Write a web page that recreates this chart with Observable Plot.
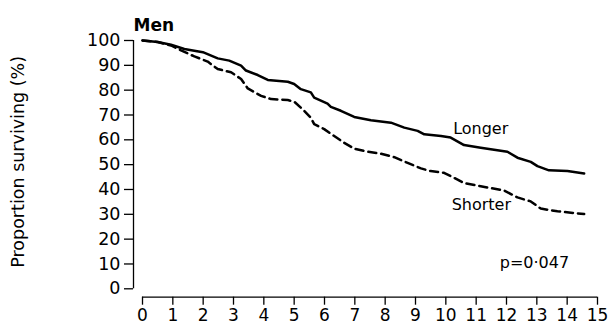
<!DOCTYPE html>
<html><head><meta charset="utf-8">
<script src="https://cdn.jsdelivr.net/npm/d3@7"></script>
<script src="https://cdn.jsdelivr.net/npm/@observablehq/plot@0.6"></script>
<style>body{margin:0;background:#fff}</style>
</head><body><div id="chart"></div>
<script>
const longerYears = [0,0.5,0.94,1.38,1.99,2.48,2.86,3.25,3.41,3.8,4.13,4.79,5.0,5.22,5.55,5.66,6.1,6.21,6.54,6.98,7.53,8.19,8.63,9.07,9.29,9.84,10.16,10.6,11.15,12.03,12.36,12.8,13.02,13.4,14.01,14.56];
const longerPct   = [100,99.4,98.3,96.6,95.3,92.8,91.9,89.9,87.9,86.1,84.1,83.4,82.5,80.4,79.1,77.0,74.6,73.3,71.7,69.2,67.9,66.9,64.9,63.6,62.2,61.5,60.9,57.9,56.8,55.2,52.8,51.1,49.4,47.7,47.4,46.4];
const shorterYears = [0,0.5,0.94,1.27,1.71,2.15,2.48,2.92,3.25,3.47,3.91,4.24,4.79,5.0,5.33,5.55,5.66,5.99,6.32,6.65,6.98,7.42,7.86,8.3,8.74,9.18,9.5,9.94,10.27,10.6,11.15,11.92,12.36,12.8,13.13,13.68,14.56];
const shorterPct   = [100,99.4,98,96,93.6,91.5,88.5,87.2,84.5,80.7,77.7,76.4,76,75.4,71.7,68.9,66.3,64.3,61.5,58.8,56.4,55.2,54.4,53,50.7,48.5,47.4,46.7,44.7,42.6,41.3,39.6,36.8,35.2,32.3,31.2,30.1];
const xTicks = [0,1,2,3,4,5,6,7,8,9,10,11,12,13,14,15];
const yTicks = [0,10,20,30,40,50,60,70,80,90,100];
const curveLabels = ["Longer","Shorter"];
const curveLabelX = [11.15,11.17];
const curveLabelY = [64.6,33.7];
const pText = "p=0·047";
const pX = 12.92, pY = 10.3;
const title = "Men";
const yLabel = "Proportion surviving (%)";

const longer = longerYears.map((t,i)=>({t, s: longerPct[i]}));
const shorter = shorterYears.map((t,i)=>({t, s: shorterPct[i]}));
const labels = curveLabels.map((text,i)=>({text, x: curveLabelX[i], y: curveLabelY[i]}));

const chart = Plot.plot({
  width: 610, height: 327,
  marginLeft: 133, marginRight: 13, marginTop: 40, marginBottom: 30.3,
  style: {fontFamily: "DejaVu Sans", color: "black", background: "white"},
  x: {domain: [0,15], insetLeft: 9},
  y: {domain: [0,100], insetBottom: 8.4},
  marks: [
    Plot.ruleX([0], {y1: 0, y2: 100, dx: -9, stroke: "black", strokeWidth: 1.3}),
    Plot.ruleY([0], {x1: 0, x2: 15, dy: 8.4, stroke: "black", strokeWidth: 1.3}),
    Plot.axisY(yTicks, {tickSize: 9, tickPadding: 4, label: null, fontSize: 17.5, strokeWidth: 1.3}),
    Plot.axisX(xTicks, {tickSize: 8, tickPadding: 3.5, label: null, fontSize: 17, strokeWidth: 1.3}),
    Plot.line(longer, {x: "t", y: "s", stroke: "black", strokeWidth: 2.5}),
    Plot.line(shorter, {x: "t", y: "s", stroke: "black", strokeWidth: 2.5, strokeDasharray: "8,5"}),
    Plot.text(labels, {x: "x", y: "y", text: "text", fontSize: 16}),
    Plot.text([pText], {x: pX, y: pY, text: d => d, fontSize: 16}),
    Plot.text([title], {frameAnchor: "top-left", text: d => d, fontWeight: "bold", fontSize: 17, lineAnchor: "bottom", dy: -10}),
    Plot.text([yLabel], {frameAnchor: "left", text: d => d, rotate: -90, textAnchor: "middle", dx: -115, dy: -7, fontSize: 17.5})
  ]
});
document.getElementById("chart").appendChild(chart);
</script>
</body></html>
